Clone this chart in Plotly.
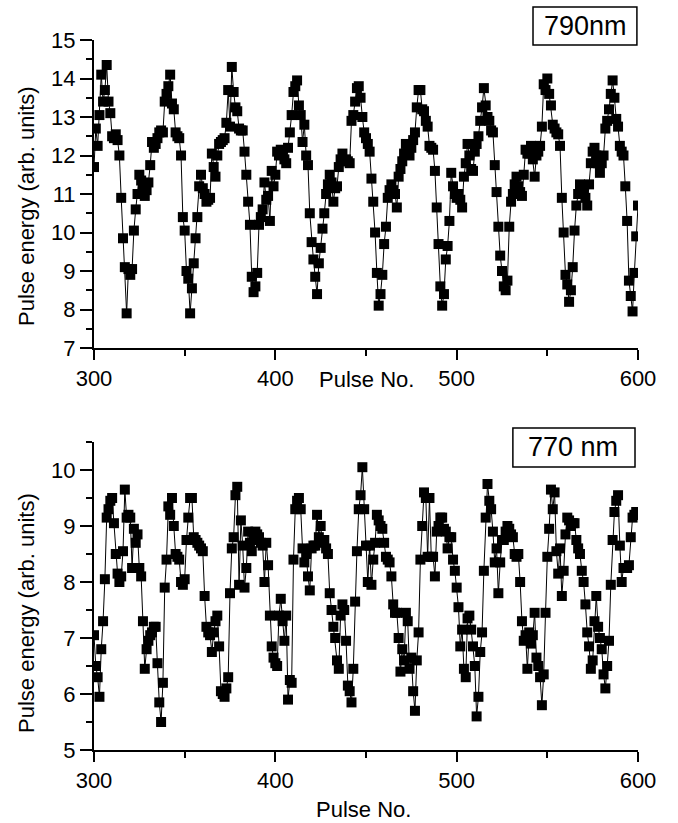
import plotly.graph_objects as go

# Pulse numbers shared by both traces
pulse_no = list(range(300, 601))

# Pulse energy at 790 nm (arb. units), pulses 300..600
energy_790 = (
    [11.7, 12.7, 12.25, 13.05, 14.1, 13.4, 13.7, 14.35, 13.4, 13.1]
    + [12.5, 12.45, 12.55, 12.4, 12.0, 10.9, 9.85, 9.1, 7.9, 9.05]
    + [8.9, 9.05, 10.05, 10.6, 11.0, 11.5, 11.35, 11.15, 10.95, 11.1]
    + [11.3, 11.75, 12.35, 12.2, 12.3, 12.45, 12.6, 12.65, 12.6, 13.4]
    + [13.6, 13.8, 14.1, 13.35, 13.2, 12.6, 12.5, 12.45, 12.0, 10.4]
    + [10.05, 9.0, 8.8, 7.9, 8.55, 9.2, 9.85, 10.4, 11.2, 11.5]
    + [11.15, 11.0, 10.8, 10.85, 10.9, 12.05, 11.7, 11.45, 12.0, 12.3]
    + [12.35, 12.4, 12.45, 12.85, 13.7, 12.75, 14.3, 13.65, 13.25, 13.15]
    + [12.7, 12.65, 12.65, 12.1, 11.5, 10.8, 10.2, 8.85, 8.45, 8.6]
    + [8.95, 10.2, 10.4, 10.6, 11.3, 10.85, 10.95, 10.3, 11.6, 11.2]
    + [11.5, 12.1, 12.0, 12.15, 12.05, 11.9, 11.8, 12.2, 12.6, 13.05]
    + [13.65, 13.8, 13.95, 13.3, 13.05, 12.35, 12.8, 12.0, 11.75, 10.5]
    + [9.75, 9.3, 8.85, 8.4, 9.2, 9.6, 10.1, 10.5, 11.0, 11.25]
    + [11.5, 11.3, 10.8, 11.15, 11.2, 11.7, 11.9, 12.05, 11.85, 11.9]
    + [11.85, 11.8, 12.9, 13.05, 13.4, 13.75, 13.8, 13.5, 13.0, 12.6]
    + [12.45, 12.3, 12.1, 11.4, 10.8, 10.0, 8.95, 8.1, 8.4, 8.9]
    + [9.7, 10.15, 10.9, 11.1, 11.25, 11.1, 11.0, 10.65, 11.45, 11.65]
    + [11.85, 12.05, 12.3, 12.15, 12.0, 12.2, 12.4, 12.6, 13.25, 13.7]
    + [13.7, 13.2, 13.15, 12.9, 12.75, 12.25, 12.2, 12.15, 11.6, 10.65]
    + [9.7, 8.6, 8.1, 8.4, 9.3, 9.65, 10.3, 11.55, 11.2, 11.0]
    + [10.9, 11.0, 10.85, 10.65, 11.45, 11.8, 12.3, 12.0, 11.65, 11.6]
    + [12.1, 12.3, 12.5, 12.9, 13.25, 13.75, 13.3, 13.0, 12.9, 12.65]
    + [12.6, 11.75, 11.05, 10.15, 9.4, 9.0, 8.6, 8.5, 8.75, 10.15]
    + [10.8, 11.0, 11.25, 11.45, 11.2, 11.05, 10.95, 11.5, 12.15, 12.05]
    + [12.05, 12.25, 11.9, 11.45, 12.0, 12.1, 12.25, 12.75, 13.85, 13.7]
    + [14.0, 13.6, 13.3, 12.8, 12.7, 12.6, 12.55, 12.25, 10.9, 10.0]
    + [8.9, 8.65, 8.2, 8.5, 9.1, 10.05, 10.7, 11.0, 11.25, 11.2]
    + [11.1, 10.9, 10.7, 11.25, 11.8, 12.1, 12.2, 12.0, 11.8, 11.55]
    + [11.8, 12.0, 12.7, 12.9, 13.2, 13.6, 13.95, 13.5, 12.95, 12.75]
    + [12.25, 12.1, 12.0, 11.2, 10.3, 8.75, 8.35, 7.95, 8.95, 9.9, 10.7]
)

# Pulse energy at 770 nm (arb. units), pulses 300..600
energy_770 = (
    [7.05, 6.5, 6.3, 5.95, 6.8, 7.3, 8.05, 9.15, 9.3, 9.45]
    + [9.5, 9.05, 8.5, 8.15, 8.0, 8.1, 8.55, 9.65, 9.15, 9.2]
    + [9.15, 8.25, 8.95, 8.7, 8.85, 8.25, 8.1, 7.3, 6.45, 6.8]
    + [6.95, 7.05, 7.1, 7.2, 7.2, 6.55, 5.85, 5.5, 6.2, 7.9]
    + [8.4, 9.35, 9.2, 9.5, 9.0, 8.5, 8.45, 8.4, 8.0, 7.95]
    + [8.05, 8.75, 9.15, 9.5, 9.5, 8.8, 8.75, 8.7, 8.65, 8.6]
    + [8.55, 7.75, 7.2, 7.1, 7.05, 6.75, 7.1, 7.3, 7.4, 6.85]
    + [6.05, 6.0, 5.95, 6.1, 6.3, 7.8, 8.6, 8.8, 9.55, 9.7]
    + [7.95, 9.1, 8.65, 7.9, 8.25, 8.9, 8.7, 8.55, 8.75, 8.9]
    + [8.85, 8.8, 8.7, 8.65, 8.0, 8.7, 8.3, 7.4, 6.85, 6.65]
    + [6.55, 6.5, 7.4, 7.7, 7.3, 6.95, 7.4, 5.9, 6.25, 6.2]
    + [8.4, 9.3, 9.45, 9.5, 9.3, 8.6, 8.35, 8.5, 8.1, 7.85]
    + [8.6, 8.65, 8.65, 9.2, 8.8, 9.0, 8.7, 8.75, 8.6, 8.5]
    + [7.8, 7.5, 7.2, 7.0, 6.6, 6.45, 7.4, 7.6, 7.5, 6.95]
    + [6.15, 6.05, 5.85, 6.45, 7.65, 8.55, 9.3, 9.55, 10.05, 9.3]
    + [8.65, 8.0, 8.65, 7.95, 8.4, 8.7, 9.2, 9.1, 9.0, 8.95]
    + [8.7, 8.45, 8.4, 8.35, 8.1, 7.6, 7.45, 7.45, 7.0, 6.4]
    + [6.8, 6.6, 7.45, 7.3, 6.45, 6.65, 6.05, 5.7, 6.6, 7.1]
    + [8.4, 9.0, 9.6, 9.5, 8.45, 9.5, 8.45, 8.45, 8.1, 8.9]
    + [9.0, 9.15, 9.15, 8.95, 8.9, 8.6, 8.8, 8.8, 8.4, 8.2]
    + [7.9, 7.55, 6.85, 7.15, 6.45, 6.3, 7.35, 7.4, 7.15, 6.85]
    + [6.5, 5.6, 5.95, 6.75, 7.1, 8.2, 9.15, 9.75, 9.45, 9.3]
    + [8.9, 8.35, 8.6, 7.8, 8.35, 8.75, 8.75, 8.9, 9.0, 8.95]
    + [8.85, 8.8, 8.5, 8.45, 8.5, 8.0, 7.3, 6.95, 7.05, 6.45]
    + [7.1, 6.9, 7.05, 7.45, 6.65, 6.5, 6.3, 5.8, 6.35, 7.45]
    + [8.45, 8.95, 9.65, 9.3, 9.6, 8.55, 8.15, 8.6, 7.75, 8.2]
    + [8.85, 9.15, 9.1, 9.0, 9.05, 9.05, 8.75, 8.6, 8.5, 8.2]
    + [8.0, 7.6, 7.1, 6.85, 6.45, 6.6, 7.3, 7.75, 7.2, 7.0]
    + [6.8, 6.35, 6.1, 6.5, 6.95, 7.95, 8.75, 9.25, 9.45, 9.55]
    + [8.65, 8.0, 8.25, 8.25, 8.25, 8.3, 8.8, 9.15, 9.2, 9.25, 9.2]
)

x_ticks = [300, 400, 500, 600]
x_minor = [350, 450, 550]
y_ticks_790 = [7, 8, 9, 10, 11, 12, 13, 14, 15]
y_ticks_770 = [5, 6, 7, 8, 9, 10]

FONT = "Liberation Sans, Arial, Helvetica, sans-serif"

fig = go.Figure()

trace_style = dict(
    mode="lines+markers",
    line=dict(color="black", width=1),
    marker=dict(symbol="square", size=10, color="black", line=dict(width=0)),
    showlegend=False,
)
fig.add_trace(go.Scatter(x=pulse_no, y=energy_790, xaxis="x", yaxis="y", **trace_style))
fig.add_trace(go.Scatter(x=pulse_no, y=energy_770, xaxis="x2", yaxis="y2", **trace_style))

xaxis_style = dict(
    range=[300, 600],
    tickmode="array",
    tickvals=x_ticks,
    ticks="outside",
    ticklen=10,
    tickwidth=2,
    tickcolor="black",
    showline=True,
    linewidth=2,
    linecolor="black",
    showgrid=False,
    zeroline=False,
    tickfont=dict(family=FONT, size=22, color="black"),
    minor=dict(tickmode="array", tickvals=x_minor, ticks="outside", ticklen=6,
               tickwidth=2, tickcolor="black", showgrid=False),
)

yaxis_style = dict(
    ticks="outside",
    ticklen=12,
    tickwidth=2,
    tickcolor="black",
    showline=True,
    linewidth=2,
    linecolor="black",
    showgrid=False,
    zeroline=False,
    tickfont=dict(family=FONT, size=22, color="black"),
    minor=dict(dtick=0.5, ticks="outside", ticklen=6, tickwidth=2,
               tickcolor="black", showgrid=False),
)

fig.update_layout(
    width=678,
    height=823,
    margin=dict(l=94, r=40, t=40, b=73),
    paper_bgcolor="white",
    plot_bgcolor="white",
    font=dict(family=FONT, color="black"),
    xaxis=dict(domain=[0, 1], anchor="y", **xaxis_style),
    yaxis=dict(domain=[0.5662, 1], anchor="x", range=[7, 15], tickmode="array",
               tickvals=y_ticks_790, **yaxis_style),
    xaxis2=dict(domain=[0, 1], anchor="y2", **xaxis_style),
    yaxis2=dict(domain=[0, 0.4338], anchor="x2", range=[5, 10.5], tickmode="array",
                tickvals=y_ticks_770, **yaxis_style),
)

title_font = dict(family=FONT, size=22, color="black")
annotations = [
    dict(text="Pulse energy (arb. units)", x=-0.1232, y=0.7662, textangle=-90),
    dict(text="Pulse energy (arb. units)", x=-0.1232, y=0.193, textangle=-90),
    dict(text="Pulse No.", x=0.5018, y=0.5225),
    dict(text="Pulse No.", x=0.496, y=-0.0831),
]
for a in annotations:
    fig.add_annotation(xref="paper", yref="paper", xanchor="center", yanchor="middle",
                       showarrow=False, font=title_font, **a)

# Wavelength labels in framed boxes
label_font = dict(family=FONT, size=27, color="black")
fig.add_shape(type="rect", xref="paper", yref="paper", x0=0.807, x1=0.998,
              y0=0.993, y1=1.0465, line=dict(color="black", width=1.5))
fig.add_annotation(text="790nm", xref="paper", yref="paper", x=0.9026, y=1.0197,
                   xanchor="center", yanchor="middle", showarrow=False, font=label_font)
fig.add_shape(type="rect", xref="paper", yref="paper", x0=0.770, x1=0.9945,
              y0=0.3986, y1=0.4535, line=dict(color="black", width=1.5))
fig.add_annotation(text="770 nm", xref="paper", yref="paper", x=0.8796, y=0.4268,
                   xanchor="center", yanchor="middle", showarrow=False, font=label_font)

fig.write_html("out.html")
